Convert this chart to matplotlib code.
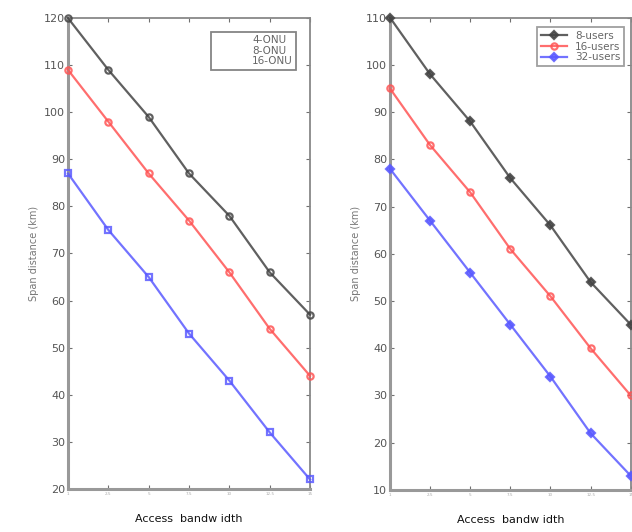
import matplotlib
matplotlib.use("Agg")
import matplotlib.pyplot as plt
from matplotlib.lines import Line2D

x_ticklabels = ['1', '2.5', '5', '7.5', '10', '12.5', '15']
x_pos = list(range(len(x_ticklabels)))

left_labels = ['4-ONU', '8-ONU', '16-ONU']
onu4 = [120, 109, 99, 87, 78, 66, 57]
onu8 = [109, 98, 87, 77, 66, 54, 44]
onu16 = [87, 75, 65, 53, 43, 32, 22]

right_labels = ['8-users', '16-users', '32-users']
users8 = [110, 98, 88, 76, 66, 54, 45]
users16 = [95, 83, 73, 61, 51, 40, 30]
users32 = [78, 67, 56, 45, 34, 22, 13]

left_yticks = [20, 30, 40, 50, 60, 70, 80, 90, 100, 110, 120]
right_yticks = [10, 20, 30, 40, 50, 60, 70, 80, 90, 100, 110]

colors = ['#444444', '#ff5555', '#5a5aff']
gray = '#707070'

fig = plt.figure(figsize=(6.32, 5.32), dpi=100)
axL = fig.add_axes([0.1076, 0.081, 0.383, 0.885])
axR = fig.add_axes([0.617, 0.079, 0.381, 0.888])

def style(ax, yticks):
    ax.set_xlim(0, 6)
    ax.set_ylim(yticks[0], yticks[-1])
    ax.set_xticks(x_pos)
    ax.set_xticklabels(x_ticklabels, fontsize=3, color='#aaaaaa')
    ax.set_yticks(yticks)
    ax.set_yticklabels([str(v) for v in yticks], fontsize=8, color='#555555')
    ax.tick_params(direction='in', top=True, right=True, length=3, width=0.8,
                   color=gray, pad=2)
    for s in ['left', 'bottom']:
        ax.spines[s].set_color('#999999')
        ax.spines[s].set_linewidth(2.2)
    for s in ['top', 'right']:
        ax.spines[s].set_color('#888888')
        ax.spines[s].set_linewidth(1.3)
    ax.set_ylabel('Span distance (km)', fontsize=7, color='#777777', labelpad=4)
    ax.set_xlabel('Access  bandw idth', fontsize=8, color='#111111', labelpad=13)

series_L = [onu4, onu8, onu16]
markers_L = ['o', 'o', 's']
for ys, c, m, lab in zip(series_L, colors, markers_L, left_labels):
    axL.plot(x_pos, ys, color=c, lw=1.6, marker=m, ms=4.5, mfc='none',
             mec=c, mew=1.6, alpha=0.85, label=lab, clip_on=False, zorder=3)
style(axL, left_yticks)
handles = [Line2D([], [], color='none') for _ in left_labels]
legL = axL.legend(handles, left_labels, loc='upper right', bbox_to_anchor=(0.965, 0.982),
                  fontsize=7.5, frameon=True, fancybox=False, handlelength=2.8,
                  labelspacing=0.05, borderpad=0.35, edgecolor='#666666')
legL.get_frame().set_linewidth(1.3)
for t in legL.get_texts():
    t.set_color('#666666')

series_R = [users8, users16, users32]
markers_R = ['D', 'o', 'D']
for ys, c, m, lab in zip(series_R, colors, markers_R, right_labels):
    axR.plot(x_pos, ys, color=c, lw=1.6, marker=m, ms=4.5, mfc=c if m == 'D' else 'none',
             mec=c, mew=1.6, alpha=0.85, label=lab, clip_on=False, zorder=3)
style(axR, right_yticks)
legR = axR.legend(loc='upper right', bbox_to_anchor=(0.995, 0.99),
                  fontsize=7.5, frameon=True, fancybox=False, handlelength=2.5,
                  labelspacing=0.05, borderpad=0.35, edgecolor='#888888')
legR.get_frame().set_linewidth(1.3)
for t in legR.get_texts():
    t.set_color('#666666')

fig.savefig('out.png', dpi=100, facecolor='white')
